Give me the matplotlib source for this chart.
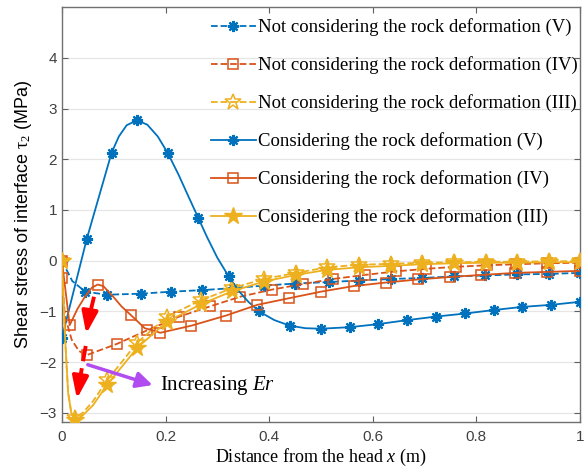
import matplotlib
matplotlib.use('Agg')
import matplotlib.pyplot as plt
import numpy as np

plt.rcParams['mathtext.fontset'] = 'custom'
plt.rcParams['mathtext.rm'] = 'Liberation Serif'
plt.rcParams['mathtext.it'] = 'Liberation Serif:italic'

# values; mk_* are the points that carry a marker
# Considering the rock deformation (V)
cv_x = [0, 0.048, 0.096, 0.11, 0.125, 0.145, 0.165, 0.185, 0.204, 0.225, 0.245, 0.263,
        0.28, 0.3, 0.322, 0.34, 0.36, 0.381, 0.41, 0.44, 0.47, 0.5, 0.556, 0.61, 0.667,
        0.723, 0.779, 0.835, 0.889, 0.944, 1.0]
cv_y = [-1.52, 0.43, 2.13, 2.45, 2.67, 2.77, 2.68, 2.45, 2.13, 1.7, 1.25, 0.85,
        0.47, 0.06, -0.31, -0.58, -0.81, -1.0, -1.17, -1.28, -1.33, -1.34, -1.31, -1.25, -1.17,
        -1.1, -1.04, -0.97, -0.91, -0.87, -0.81]
mk_cv = [0, 1, 2, 5, 8, 11, 14, 17, 19, 21, 22, 23, 24, 25, 26, 27, 28, 29, 30]

# Not considering the rock deformation (V)
nv_x = [0, 0.02, 0.045, 0.087, 0.152, 0.211, 0.27, 0.33, 0.39, 0.45, 0.515, 0.573,
        0.636, 0.695, 0.756, 0.817, 0.878, 0.94, 1.0]
nv_y = [0, -0.4, -0.61, -0.67, -0.65, -0.61, -0.58, -0.54, -0.49, -0.45, -0.42, -0.39,
        -0.36, -0.34, -0.31, -0.29, -0.27, -0.26, -0.24]
mk_nv = [0, 2, 3, 4, 5, 6, 7, 8, 9, 10, 11, 12, 13, 14, 15, 16, 17, 18]

# Considering the rock deformation (IV)
civ_x = [0, 0.015, 0.03, 0.045, 0.058, 0.069, 0.08, 0.1, 0.115, 0.133, 0.16, 0.19, 0.25,
         0.317, 0.377, 0.438, 0.5, 0.563, 0.625, 0.687, 0.75, 0.81, 0.875, 0.937, 1.0]
civ_y = [0, -1.27, -0.95, -0.7, -0.53, -0.47, -0.5, -0.72, -0.9, -1.07, -1.33, -1.42, -1.28,
         -1.08, -0.87, -0.74, -0.61, -0.5, -0.43, -0.37, -0.32, -0.28, -0.24, -0.22, -0.2]
mk_civ = [0, 1, 5, 9, 11, 12, 13, 14, 15, 16, 17, 18, 19, 20, 21, 22, 23, 24]

# Not considering the rock deformation (IV)
niv_x = [0, 0.006, 0.019, 0.033, 0.048, 0.106, 0.165, 0.227, 0.286, 0.344, 0.405, 0.465,
         0.523, 0.585, 0.645, 0.702, 0.76, 0.82, 0.877, 0.937, 1.0]
niv_y = [-0.34, -1.1, -1.56, -1.78, -1.86, -1.64, -1.37, -1.1, -0.9, -0.71, -0.57, -0.46,
         -0.36, -0.28, -0.21, -0.16, -0.12, -0.09, -0.07, -0.05, -0.04]
mk_niv = [0, 4, 5, 6, 7, 8, 9, 10, 11, 12, 13, 14, 15, 16, 17, 18, 19, 20]

# Considering the rock deformation (III)
ciii_x = [0, 0.006, 0.012, 0.018, 0.025, 0.04, 0.06, 0.087, 0.145, 0.203, 0.268, 0.329,
          0.39, 0.452, 0.512, 0.573, 0.636, 0.695, 0.756, 0.818, 0.878, 0.94, 1.0]
ciii_y = [0, -1.5, -2.6, -3.0, -3.14, -3.05, -2.85, -2.45, -1.72, -1.2, -0.86, -0.6,
          -0.41, -0.28, -0.18, -0.13, -0.1, -0.07, -0.05, -0.04, -0.04, -0.03, -0.03]
mk_ciii = [0, 4, 7, 8, 9, 10, 11, 12, 13, 14, 15, 16, 17, 18, 19, 20, 21, 22]

# Not considering the rock deformation (III)
niii_y = [0, -1.5, -2.6, -2.98, -3.1, -3.0, -2.77, -2.36, -1.62, -1.1, -0.78, -0.54,
          -0.36, -0.24, -0.13, -0.08, -0.06, -0.04, -0.03, -0.02, -0.02, -0.01, -0.01]

labels = ['Not considering the rock deformation (V)',
          'Not considering the rock deformation (IV)',
          'Not considering the rock deformation (III)',
          'Considering the rock deformation (V)',
          'Considering the rock deformation (IV)',
          'Considering the rock deformation (III)']

# red dashed arrows: (start, head base, tip)
red_arrows = [((0.062, -0.71), (0.051, -1.18), (0.047, -1.44)),
              ((0.046, -1.68), (0.034, -2.38), (0.029, -2.72))]

blue = '#0072BD'
orange = '#D95319'
yellow = '#EDB120'

fig = plt.figure(figsize=(5.84, 4.70), dpi=100)
ax = fig.add_axes([0.106, 0.102, 0.887, 0.883])

ax.plot(nv_x, nv_y, '--', color=blue, lw=1.3, marker=(8, 2, 0), ms=8, mew=1.6,
        markevery=mk_nv, label=labels[0], zorder=3)
ax.plot(niv_x, niv_y, '--', color=orange, lw=1.3, marker='s', ms=7, mfc='none', mew=1.1,
        markevery=mk_niv, label=labels[1], zorder=3)
ax.plot(ciii_x, niii_y, '--', color=yellow, lw=1.3, marker='*', ms=12, mfc='none', mew=1.1,
        markevery=mk_ciii, label=labels[2], zorder=3)
ax.plot(cv_x, cv_y, '-', color=blue, lw=1.3, marker=(8, 2, 0), ms=8, mew=1.6,
        markevery=mk_cv, label=labels[3], zorder=4)
ax.plot(civ_x, civ_y, '-', color=orange, lw=1.3, marker='s', ms=7, mfc='none', mew=1.1,
        markevery=mk_civ, label=labels[4], zorder=4)
ax.plot(ciii_x, ciii_y, '-', color=yellow, lw=1.3, marker='*', ms=13,
        markevery=mk_ciii, label=labels[5], zorder=4)

# annotation arrows
for start, base, tip in red_arrows:
    ax.plot([start[0], base[0]], [start[1], base[1]], color='red', lw=2.8,
            dashes=(4, 1.8), solid_capstyle='butt', zorder=5)
    ax.annotate('', xy=tip, xytext=base,
                arrowprops=dict(arrowstyle='-|>,head_length=1.1,head_width=0.4',
                                color='red', lw=2.8, mutation_scale=12,
                                shrinkA=0, shrinkB=0), zorder=5)
ax.annotate('', xy=(0.175, -2.45), xytext=(0.05, -2.05),
            arrowprops=dict(arrowstyle='-|>,head_length=0.6,head_width=0.3', color='#B04CF0',
                            lw=2.5, mutation_scale=16, shrinkA=0, shrinkB=0), zorder=5)
ax.text(0.19, -2.45, 'Increasing $Er$', fontsize=15, family='Liberation Serif',
        va='center', ha='left')

ax.set_xlim(0, 1)
ax.set_ylim(-3.18, 5.0)
ax.set_xticks([0, 0.2, 0.4, 0.6, 0.8, 1.0])
ax.set_xticklabels(['0', '0.2', '0.4', '0.6', '0.8', '1'])
ax.set_yticks([-3, -2, -1, 0, 1, 2, 3, 4])
ax.grid(axis='y', color='#e6e6e6', lw=0.9, zorder=0)
ax.set_axisbelow(True)
ax.tick_params(direction='in', top=True, right=True, length=4, colors='#606060',
               labelsize=11, labelcolor='#404040')
ax.tick_params(axis='x', pad=6)
for lab in ax.get_xticklabels() + ax.get_yticklabels():
    lab.set_family('Liberation Sans')
for sp in ax.spines.values():
    sp.set_color('#707070')
    sp.set_linewidth(1.0)

ax.set_xlabel('Distance from the head $x$ (m)', fontsize=13, family='Liberation Serif',
              labelpad=2)
ax.set_ylabel(r'Shear stress of interface $\mathrm{\tau_2}$ (MPa)', fontsize=13,
              family='Liberation Sans', labelpad=4)

leg = ax.legend(loc='upper left', bbox_to_anchor=(0.28, 0.982), frameon=False,
                prop={'family': 'Liberation Serif', 'size': 13.5}, handlelength=2.4,
                handletextpad=0.1, labelspacing=1.07, borderpad=0.2, borderaxespad=0)

fig.savefig('out.png', dpi=100)
